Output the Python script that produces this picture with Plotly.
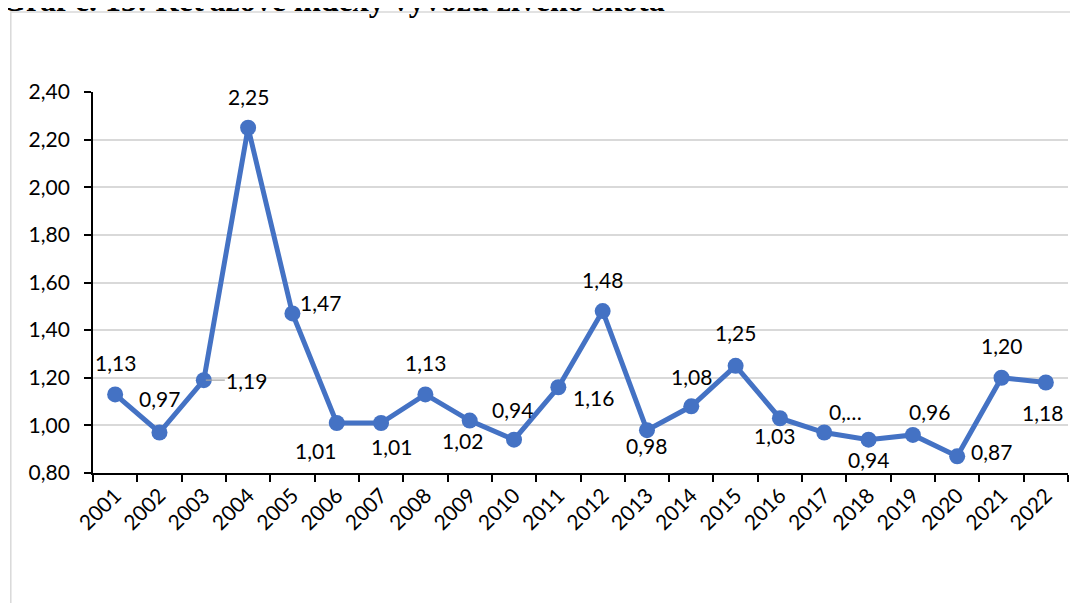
import plotly.graph_objects as go

years = [str(y) for y in range(2001, 2023)]
values = [1.13, 0.97, 1.19, 2.25, 1.47, 1.01, 1.01, 1.13, 1.02, 0.94, 1.16,
          1.48, 0.98, 1.08, 1.25, 1.03, 0.97, 0.94, 0.96, 0.87, 1.20, 1.18]
label_override = {"2017": "0,…"}
y_ticks = [0.80, 1.00, 1.20, 1.40, 1.60, 1.80, 2.00, 2.20, 2.40]
title_text = "Graf č. 13: Reťazové indexy vývozu živého skota"

# label offsets (px) relative to each marker: (dx, dy_up)
offsets = [(0, 32), (0, 34), (43, 0), (0, 31), (28, 11), (-21, -28), (10, -24),
           (0, 32), (-7, -20), (-2, 30), (35, -10), (0, 32), (0, -15), (0, 30),
           (0, 33), (-5, -17), (21, 21), (0, -20), (17, 23), (34, 5), (0, 32),
           (-3, -30)]

# the page places the figure 8px in from the top-left corner
OFF = 8
W, H = 1062, 595
L, R, T, B = 92.7 - OFF, 1067.7 - OFF, 91.7 - OFF, 473.3 - OFF
font = "Lato, Open Sans, sans-serif"
FS = 21

fig = go.Figure()
fig.add_trace(go.Scatter(
    x=years, y=values, mode="lines+markers",
    line=dict(color="#4472C4", width=5),
    marker=dict(color="#4472C4", size=16),
    showlegend=False, hoverinfo="skip"))

def fmt(v):
    return f"{v:.2f}".replace(".", ",")

for i, (yr, v) in enumerate(zip(years, values)):
    txt = label_override.get(yr, fmt(v))
    dx, dy = offsets[i]
    if yr == "2003":
        fig.add_annotation(x=i, y=v, xref="x", yref="y", text=txt, showarrow=True,
                           ax=dx, ay=-dy, arrowhead=0, arrowwidth=1.2,
                           arrowcolor="#A6A6A6", standoff=2,
                           font=dict(family=font, size=FS, color="#000000"))
    else:
        fig.add_annotation(x=i, y=v, xref="x", yref="y", text=txt, showarrow=False,
                           xshift=dx, yshift=dy,
                           font=dict(family=font, size=FS, color="#000000"))

def px_to_paper_x(px):
    return (px - OFF - L) / (R - L)

def px_to_paper_y(py):
    return 1 - (py - OFF - T) / (B - T)

# cut-off title at the very top
fig.add_annotation(x=px_to_paper_x(-1), y=px_to_paper_y(0), xref="paper", yref="paper",
                   xanchor="left", yanchor="middle", showarrow=False,
                   text="<b>" + title_text + "</b>",
                   font=dict(family="Liberation Serif, Times New Roman, serif", size=32,
                             color="#000000"))

# chart area border
fig.add_shape(type="rect", xref="paper", yref="paper",
              x0=px_to_paper_x(10.5), x1=px_to_paper_x(1100),
              y0=px_to_paper_y(640), y1=px_to_paper_y(11.5),
              line=dict(color="#D9D9D9", width=1.5), fillcolor="rgba(0,0,0,0)", layer="below")

fig.update_layout(
    width=W, height=H,
    margin=dict(l=L, r=W - R, t=T, b=H - B, pad=0),
    paper_bgcolor="#FFFFFF", plot_bgcolor="#FFFFFF",
    separators=", ",
    font=dict(family=font, size=FS, color="#000000"),
    xaxis=dict(type="category", tickson="boundaries", ticks="outside", ticklen=7,
               tickcolor="#000000", tickwidth=1.5, showline=True, linecolor="#000000",
               linewidth=1.8, showgrid=False, tickangle=-45, zeroline=False,
               range=[-0.5, len(years) - 0.5],
               tickfont=dict(family=font, size=FS, color="#000000")),
    yaxis=dict(range=[0.8, 2.4], tickvals=y_ticks, tickformat=".2f", ticks="outside",
               ticklen=7, tickcolor="#000000", tickwidth=1.5, showline=True,
               linecolor="#000000", linewidth=1.8, showgrid=True, gridcolor="#D9D9D9",
               gridwidth=1.5, zeroline=False, ticklabelstandoff=10,
               tickfont=dict(family=font, size=FS, color="#000000")),
)

fig.write_html("out.html")
